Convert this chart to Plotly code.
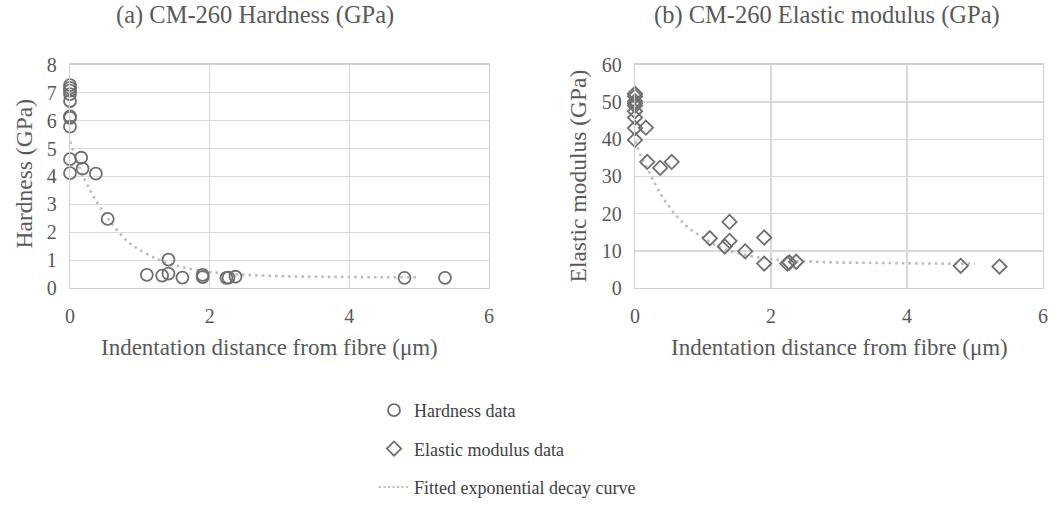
import plotly.graph_objects as go

# ---------------- data ----------------
hard_x = [0, 0, 0, 0, 0, 0, 0, 0, 0, 0,
          0.16, 0.18, 0.37, 0.54, 1.10, 1.32, 1.41, 1.41, 1.61, 1.90, 1.90,
          2.24, 2.27, 2.37, 4.79, 5.37]
hard_y = [7.27, 7.17, 7.07, 6.95, 6.70, 6.15, 6.10, 5.78, 4.62, 4.12,
          4.67, 4.28, 4.10, 2.48, 0.48, 0.45, 0.52, 1.02, 0.38, 0.48, 0.40,
          0.37, 0.38, 0.41, 0.37, 0.37]

mod_x = [0, 0, 0, 0, 0, 0, 0, 0, 0,
         0.16, 0.18, 0.37, 0.54, 1.10, 1.32, 1.39, 1.39, 1.62, 1.90, 1.90,
         2.24, 2.27, 2.37, 4.79, 5.36]
mod_y = [52.2, 51.5, 50.2, 49.6, 49.0, 47.5, 45.8, 43.0, 39.8,
         43.1, 33.9, 32.3, 33.9, 13.4, 11.2, 12.7, 17.8, 9.9, 13.6, 6.6,
         6.6, 6.9, 7.1, 6.0, 5.8]

# fitted exponential decay curves
fit_x = [0, 0.1, 0.2, 0.3, 0.4, 0.5, 0.6, 0.7, 0.8, 0.9, 1.0, 1.2, 1.4, 1.6,
         1.8, 2.0, 2.2, 2.5, 3.0, 3.5, 4.0, 4.5, 5.0]
hard_fit_y = [5.25, 4.55, 3.95, 3.45, 3.02, 2.65, 2.30, 2.00, 1.73, 1.53, 1.36,
              1.10, 0.90, 0.76, 0.65, 0.58, 0.53, 0.48, 0.43, 0.41, 0.40, 0.39, 0.39]
mod_fit_y = [39.5, 35.0, 31.5, 27.8, 24.6, 22.0, 19.6, 17.7, 16.0, 14.7, 13.6,
             11.4, 10.0, 9.0, 8.3, 7.8, 7.5, 7.2, 6.9, 6.8, 6.7, 6.6, 6.6]

x_ticks = [0, 2, 4, 6]
hard_ticks = [0, 1, 2, 3, 4, 5, 6, 7, 8]
mod_ticks = [0, 10, 20, 30, 40, 50, 60]

titles = ["(a) CM-260 Hardness (GPa)", "(b) CM-260 Elastic modulus (GPa)"]
x_title = "Indentation distance from fibre (\u03bcm)"
y_titles = ["Hardness (GPa)", "Elastic modulus (GPa)"]
legend_names = ["Hardness data", "Elastic modulus data", "Fitted exponential decay curve"]

# ---------------- style ----------------
FONT = "Liberation Serif"
TXT = "#595959"
MK = "#6e6e6e"
GRID = "#d9d9d9"
FIT = "#bdbdbd"
W, H = 1049, 506

fig = go.Figure()

fig.add_trace(go.Scatter(
    x=fit_x, y=hard_fit_y, mode="lines", line=dict(color=FIT, width=2.6, dash="2.6px,4px", shape="spline"),
    xaxis="x", yaxis="y", name=legend_names[2], showlegend=False, legendgroup="c", hoverinfo="skip"))
fig.add_trace(go.Scatter(
    x=fit_x, y=mod_fit_y, mode="lines", line=dict(color=FIT, width=2.6, dash="2.6px,4px", shape="spline"),
    xaxis="x2", yaxis="y2", name=legend_names[2], showlegend=False, legendgroup="c", hoverinfo="skip"))

fig.add_trace(go.Scatter(
    x=hard_x, y=hard_y, mode="markers", name=legend_names[0], legendgroup="a",
    marker=dict(symbol="circle-open", size=12, color=MK, line=dict(width=1.8, color=MK)),
    xaxis="x", yaxis="y", cliponaxis=False))
fig.add_trace(go.Scatter(
    x=mod_x, y=mod_y, mode="markers", name=legend_names[1], legendgroup="b",
    marker=dict(symbol="diamond-open", size=11, color=MK, line=dict(width=1.8, color=MK)),
    xaxis="x2", yaxis="y2", cliponaxis=False))
# legend entry for fitted curve
fig.add_trace(go.Scatter(
    x=[None], y=[None], mode="lines", name=legend_names[2], legendgroup="c",
    line=dict(color=FIT, width=2, dash="2px,2.5px"), xaxis="x", yaxis="y"))

# plot-area geometry (page pixels)
L1, R1 = 70, 489
L2, R2 = 635, 1043
TOP, BOT = 66, 294

def px(v):
    return v / W

def py(v):
    return 1 - v / H

axis_common = dict(
    showgrid=True, gridcolor=GRID, gridwidth=1.3,
    showline=True, linecolor="#d0d0d0", linewidth=1.3, mirror=True,
    zeroline=False, ticks="", fixedrange=True, automargin=False,
    tickfont=dict(family=FONT, size=20, color=TXT),
)

fig.update_layout(
    template="none",
    width=W, height=H,
    margin=dict(l=0, r=0, t=0, b=0, pad=0),
    paper_bgcolor="white", plot_bgcolor="white",
    font=dict(family=FONT, color=TXT),
    hovermode=False,
    xaxis=dict(domain=[px(L1), px(R1)], range=[0, 6], tickvals=x_ticks, anchor="y",
               ticklabelstandoff=10, **axis_common),
    yaxis=dict(domain=[py(BOT), py(TOP)], range=[0, 8], tickvals=hard_ticks, anchor="x",
               ticklabelstandoff=8, **axis_common),
    xaxis2=dict(domain=[px(L2), px(R2)], range=[0, 6], tickvals=x_ticks, anchor="y2",
                ticklabelstandoff=10, **axis_common),
    yaxis2=dict(domain=[py(BOT), py(TOP)], range=[0, 60], tickvals=mod_ticks, anchor="x2",
                ticklabelstandoff=8, **axis_common),
    showlegend=True,
    legend=dict(
        x=px(374), y=py(400), xanchor="left", yanchor="top",
        font=dict(family=FONT, size=18, color="#404040"),
        tracegroupgap=12, bgcolor="rgba(0,0,0,0)", itemwidth=30,
        traceorder="grouped",
    ),
)

ann = []
def add_text(text, x, y, size, angle=0):
    ann.append(dict(text=text, x=px(x), y=py(y), xref="paper", yref="paper",
                    showarrow=False, xanchor="center", yanchor="middle", textangle=angle,
                    font=dict(family=FONT, size=size, color=TXT)))

add_text(titles[0], 255, 15, 24.5)
add_text(titles[1], 827, 15, 24.5)
add_text(x_title, 269, 355, 23)
add_text(x_title, 839, 355, 23)
add_text(y_titles[0], 24, 178, 23.5, -90)
add_text(y_titles[1], 578, 180, 23.5, -90)
fig.update_layout(annotations=ann)

fig.write_html(
    "out.html",
    config={"displayModeBar": False, "staticPlot": True},
    post_script="document.body.style.margin='0';document.documentElement.style.overflow='hidden';",
)
